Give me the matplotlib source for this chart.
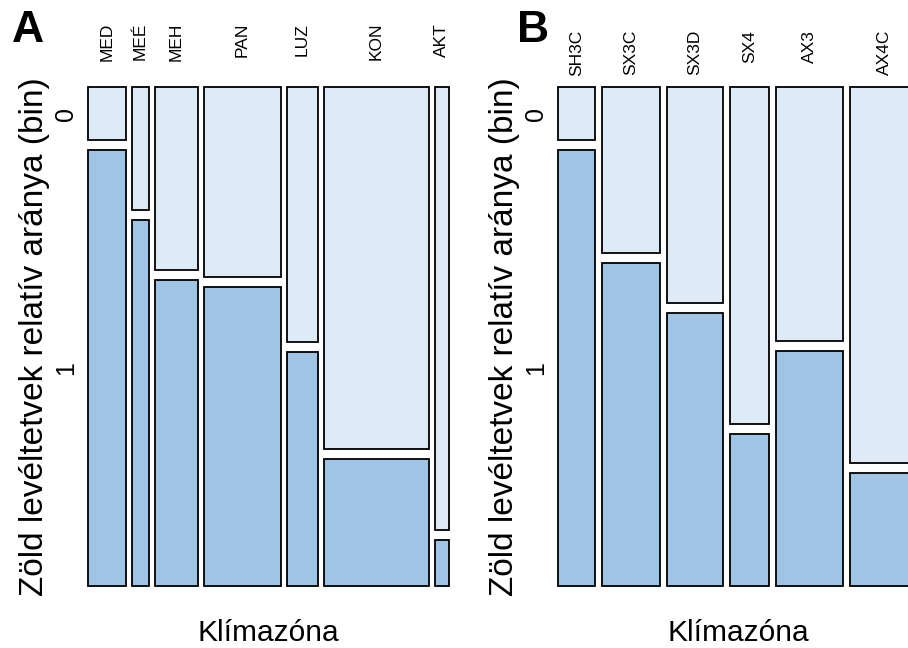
import matplotlib
matplotlib.use("Agg")
import matplotlib.pyplot as plt
from matplotlib.patches import Rectangle

# ---- data ----
zones_A = ["MED", "MEÉ", "MEH", "PAN", "LUZ", "KON", "AKT"]
share_A = [11.6, 5.3, 13.2, 23.8, 9.5, 32.4, 4.3]          # relative sample size (%)
prop0_A = [0.108, 0.251, 0.374, 0.389, 0.522, 0.741, 0.907]  # share of bin 0

zones_B = ["SH3C", "SX3C", "SX3D", "SX4", "AX3", "AX4C"]
share_B = [11.3, 17.7, 17.3, 11.8, 20.6, 21.2]
prop0_B = [0.108, 0.340, 0.442, 0.689, 0.519, 0.769]

bin_labels = ["0", "1"]
xlab = "Klímazóna"
ylab = "Zöld levéltetvek relatív aránya (bin)"

# ---- style ----
FONT = ["Liberation Sans", "DejaVu Sans"]
plt.rcParams["font.family"] = FONT
COL0 = "#DEEAF6"
COL1 = "#9FC4E5"
W, H = 908, 648
fig = plt.figure(figsize=(W / 100, H / 100), dpi=100)


def fx(x):
    return x / W


def fy(y):
    return 1 - y / H


def panel(left_px, zones, share, prop0, letter, letter_x, lab_top):
    top, bottom = 87.3, 585.7
    width = 360.4
    ax = fig.add_axes([fx(left_px), fy(bottom), width / W, (bottom - top) / H])
    ax.set_xlim(0, 1)
    ax.set_ylim(1, 0)
    ax.axis("off")
    n = len(zones)
    xgap_total = 0.10
    gap = xgap_total / (n - 1)
    tot = sum(share)
    usable = 1 - xgap_total
    ygap = 0.02
    yuse = 1 - ygap
    x = 0.0
    centers = []
    for i in range(n):
        w = share[i] / tot * usable
        h0 = prop0[i] * yuse
        ax.add_patch(Rectangle((x, 0), w, h0, facecolor=COL0, edgecolor="black",
                               linewidth=1.3, clip_on=False))
        ax.add_patch(Rectangle((x, h0 + ygap), w, 1 - h0 - ygap, facecolor=COL1,
                               edgecolor="black", linewidth=1.3, clip_on=False))
        centers.append(x + w / 2)
        if i == 0:
            y0c = h0 / 2
            y1c = (h0 + ygap + 1) / 2
        x += w + gap
    # category labels on top
    for c, z in zip(centers, zones):
        xp = left_px + c * width
        fig.text(fx(xp), fy(lab_top), z, rotation=90, ha="center", va="top",
                 fontsize=12.5)
    # bin labels left
    for yc, b in zip([y0c, y1c], bin_labels):
        yp = top + yc * (bottom - top)
        fig.text(fx(left_px - 22), fy(yp), b, rotation=90, ha="center", va="center",
                 fontsize=18)
    # axis titles
    fig.text(fx(left_px + width / 2), fy(633), xlab, ha="center", va="center",
             fontsize=21.5)
    fig.text(fx(left_px - 54), fy((top + bottom) / 2), ylab, rotation=90,
             ha="center", va="center", fontsize=24)
    fig.text(fx(letter_x), fy(31), letter, ha="center", va="center",
             fontsize=32, fontweight="bold")


panel(88.3, zones_A, share_A, prop0_A, "A", 27.5, 23)
panel(558.3, zones_B, share_B, prop0_B, "B", 533, 30)

fig.savefig("out.png", dpi=100)
